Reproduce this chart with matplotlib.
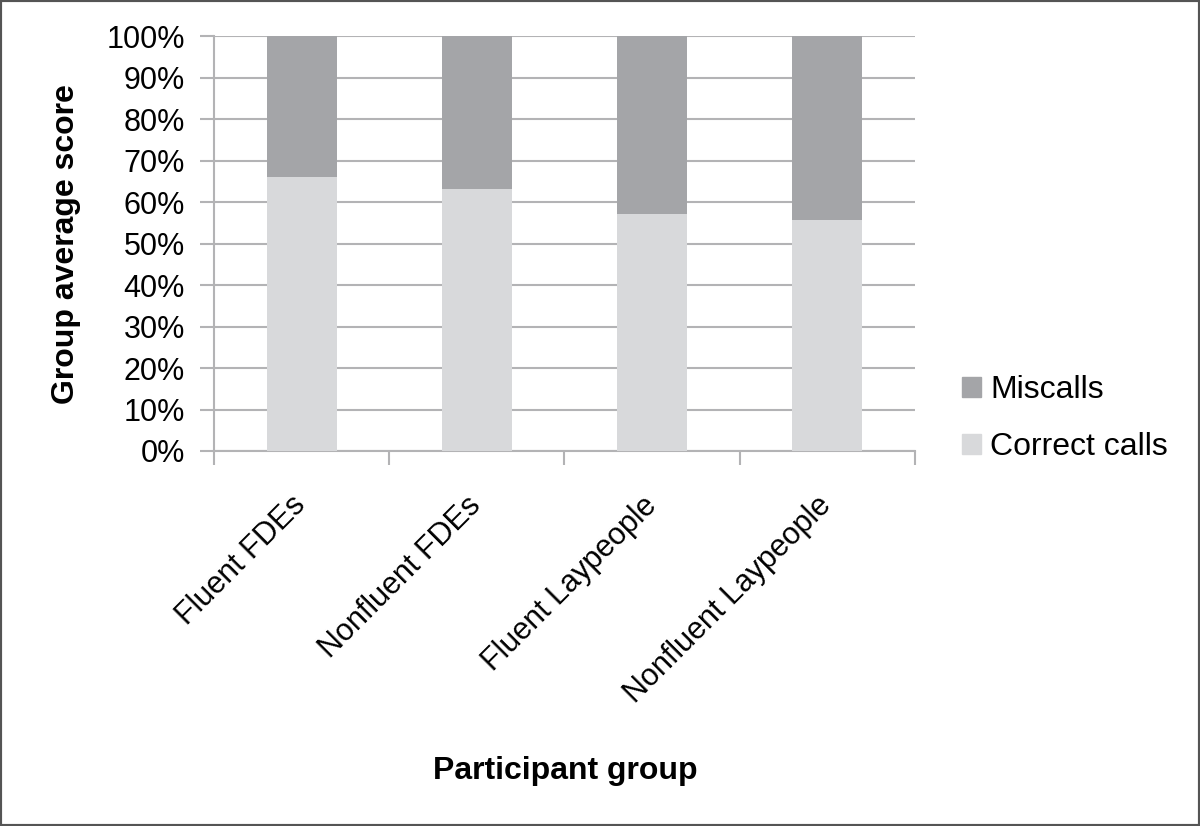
import matplotlib
matplotlib.use("Agg")
import matplotlib.pyplot as plt
from matplotlib.patches import Patch, Rectangle
from matplotlib.ticker import FuncFormatter, FixedLocator

plt.rcParams['font.family'] = ['Liberation Sans', 'DejaVu Sans']

groups = ["Fluent FDEs", "Nonfluent FDEs", "Fluent Laypeople", "Nonfluent Laypeople"]
correct_calls = [66.0, 63.1, 57.1, 55.6]
miscalls = [100 - c for c in correct_calls]

correct_color = "#d8d9db"
miss_color = "#a4a5a8"
grid_color = "#b3b3b5"

fig = plt.figure(figsize=(12, 8.26), dpi=100)
ax = fig.add_axes([0.1783, 0.454, 0.584, 0.502])

x = list(range(len(groups)))
ax.bar(x, correct_calls, width=0.4, color=correct_color, zorder=3)
ax.bar(x, miscalls, width=0.4, bottom=correct_calls, color=miss_color, zorder=3)

ax.set_xlim(-0.5, len(groups) - 0.5)
ax.set_ylim(0, 100)
ax.set_yticks(range(0, 101, 10))
ax.yaxis.set_major_formatter(FuncFormatter(lambda v, p: f"{int(v)}%"))
ax.grid(axis='y', color=grid_color, linewidth=1.5, zorder=0)

for s in ['top', 'right']:
    ax.spines[s].set_visible(False)
for s in ['left', 'bottom']:
    ax.spines[s].set_color(grid_color)
    ax.spines[s].set_linewidth(1.5)

ax.tick_params(axis='y', length=10, width=1.5, color=grid_color, labelsize=22, pad=11)
ax.xaxis.set_major_locator(FixedLocator([i - 0.5 for i in range(len(groups) + 1)]))
ax.xaxis.set_major_formatter(FuncFormatter(lambda v, p: ""))
ax.xaxis.set_minor_locator(FixedLocator(x))
ax.set_xticklabels(groups, minor=True, rotation=45, ha='right', va='center',
                   rotation_mode='anchor', fontsize=22)
ax.tick_params(axis='x', which='major', length=10, width=1.5, color=grid_color)
ax.tick_params(axis='x', which='minor', length=0, pad=36)

ax.set_ylabel("Group average score", fontsize=23, fontweight='bold', labelpad=18)
fig.text(0.4708, 0.066, "Participant group", fontsize=23, fontweight='bold', ha='center', va='center')

handles = [Patch(color=miss_color, label="Miscalls"), Patch(color=correct_color, label="Correct calls")]
fig.legend(handles=handles, loc='center left', bbox_to_anchor=(0.778, 0.493), frameon=False,
           fontsize=23, handlelength=0.58, handleheight=0.58, handletextpad=0.3, labelspacing=0.85)

fig.patches.append(Rectangle((0, 0), 1, 1, transform=fig.transFigure, fill=False,
                             edgecolor="#555555", linewidth=3))

fig.savefig("out.png", dpi=100)
